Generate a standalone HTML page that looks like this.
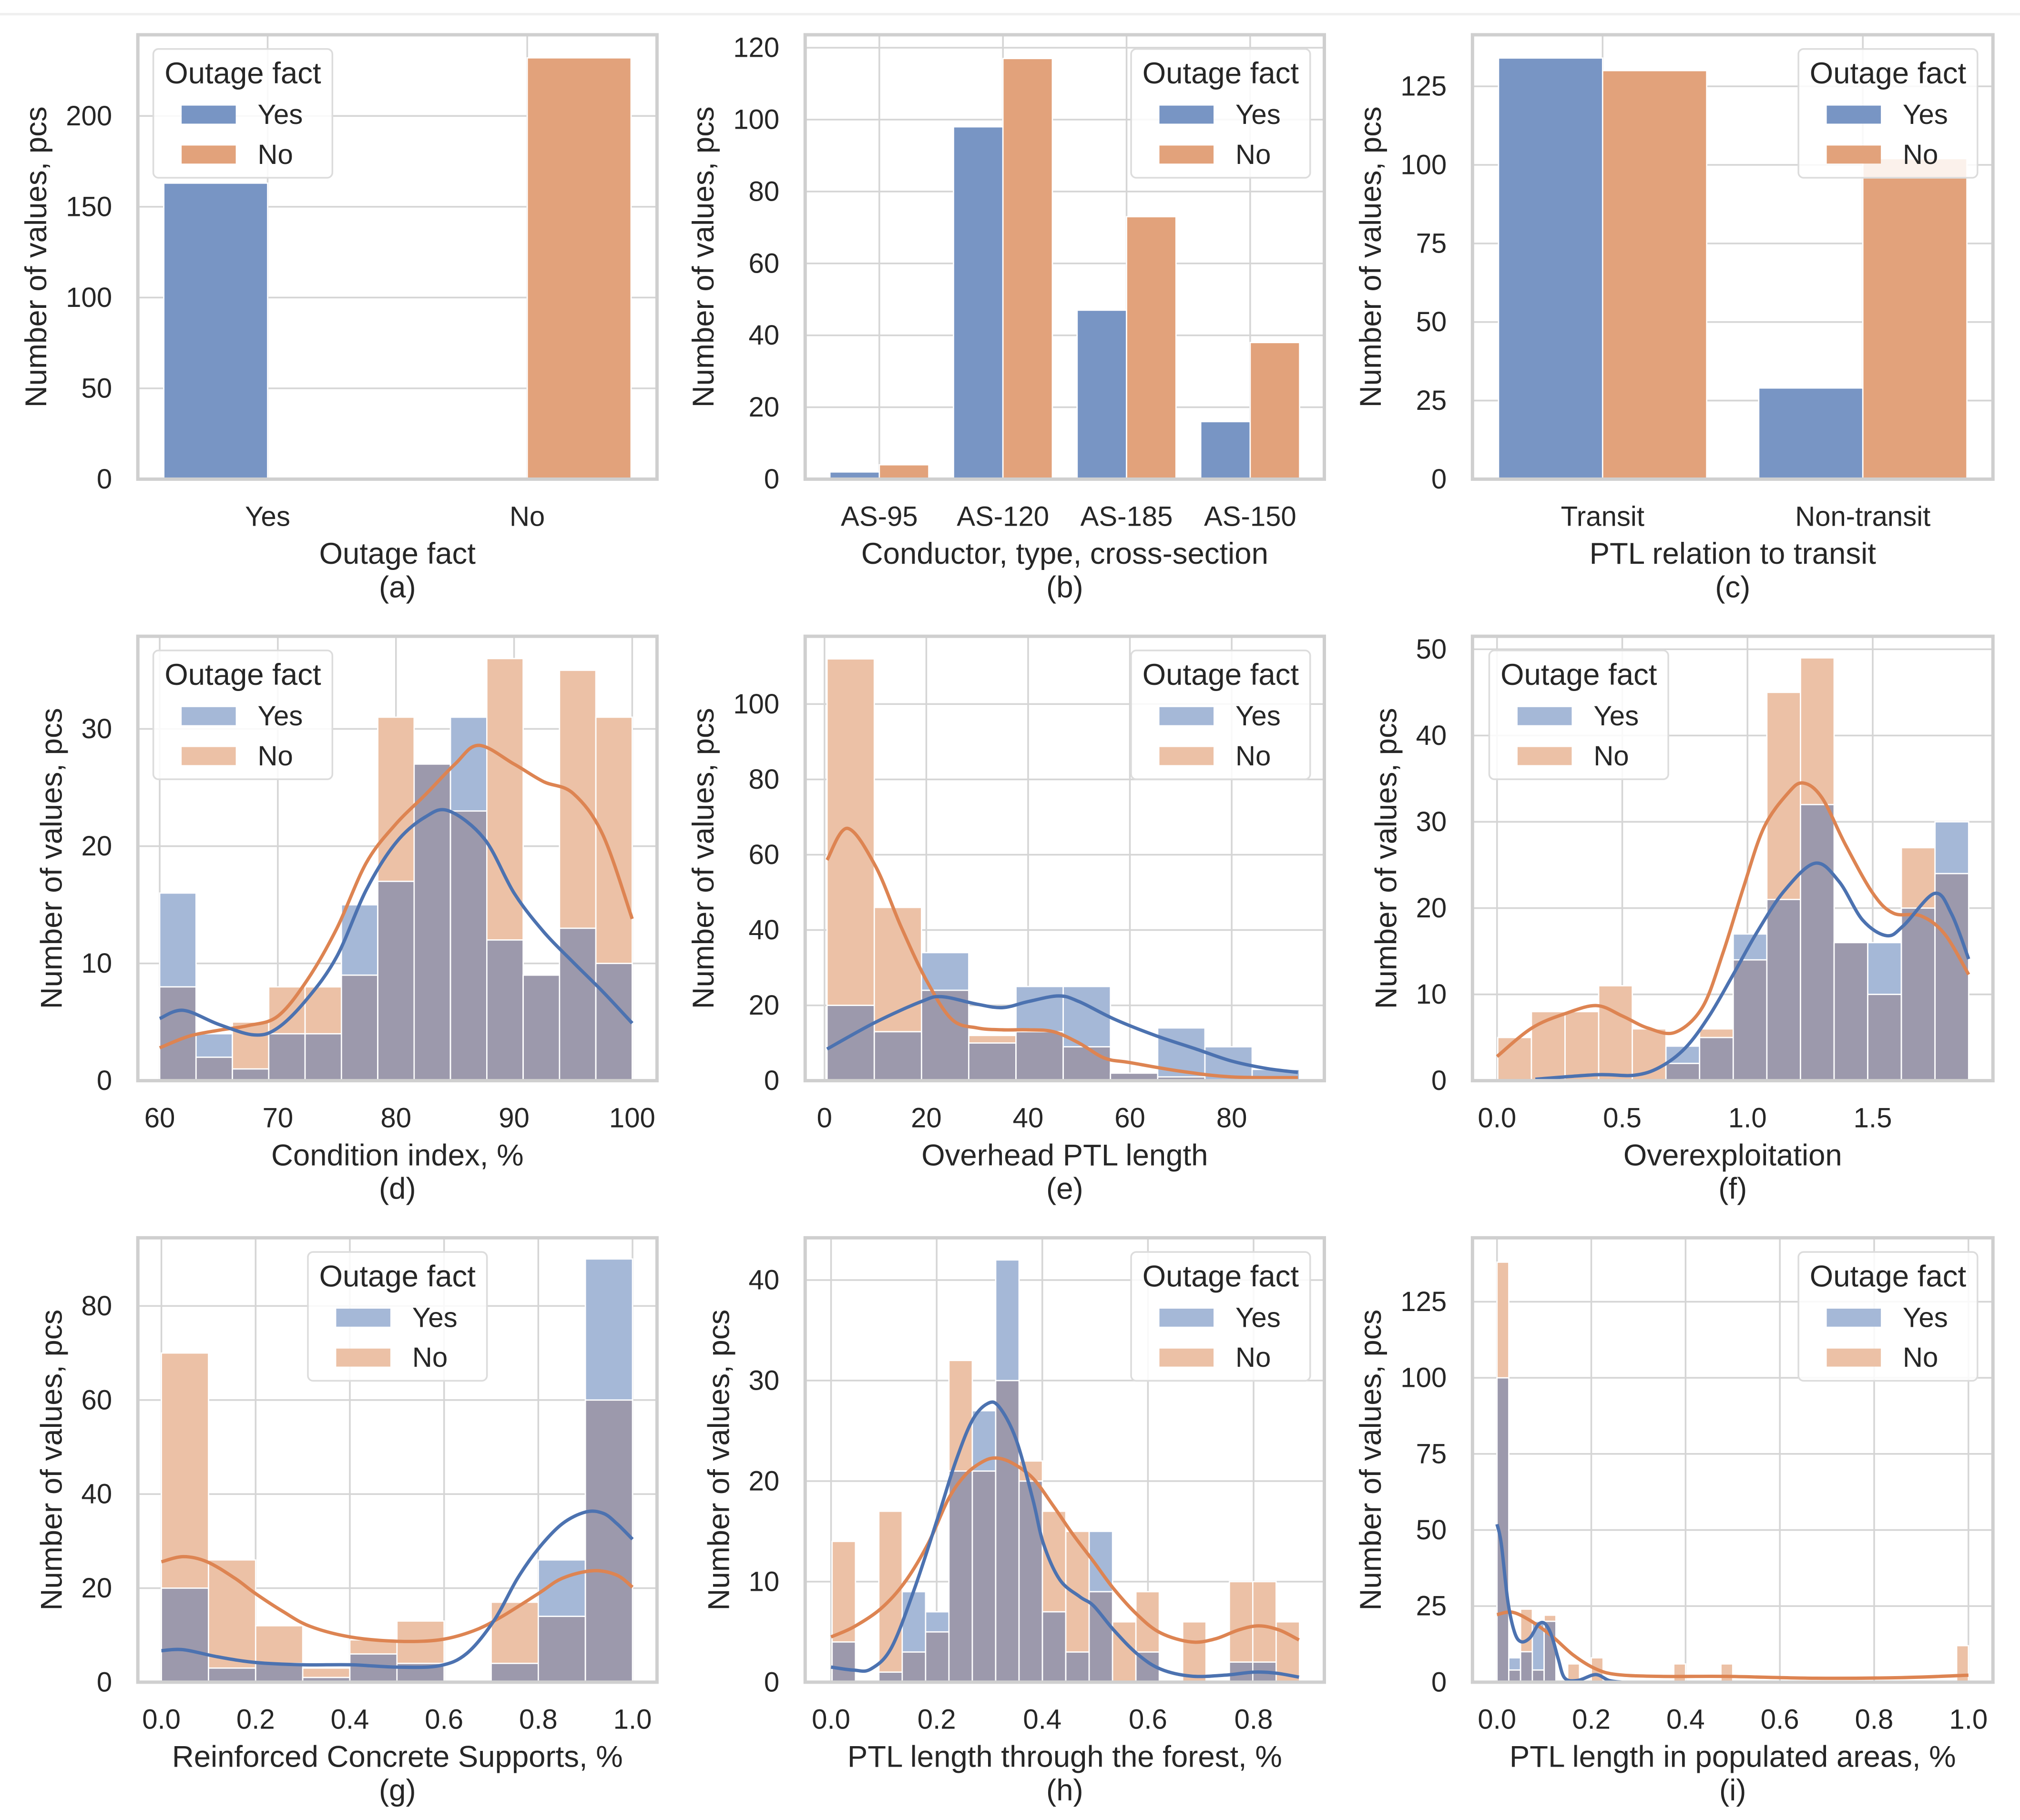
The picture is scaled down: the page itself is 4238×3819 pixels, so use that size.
<!DOCTYPE html>
<html><head><meta charset="utf-8"><title>Outage fact distributions</title>
<style>
html,body{margin:0;padding:0;background:#fff;}
svg{display:block;}
text{font-family:"Liberation Sans",Arial,sans-serif;fill:#262626;}
</style></head>
<body>
<svg id="fig" xmlns="http://www.w3.org/2000/svg" width="4238" height="3819" viewBox="0 0 1568 1413" preserveAspectRatio="none">
<rect x="0" y="0" width="1568" height="1413" fill="#fff"/>
<line x1="0" y1="11" x2="1568" y2="11" stroke="#f0f0f0" stroke-width="2"/>
</svg>
<script>
// ---------- data ----------
const aCats=['Yes','No']; const aYes=[163,0]; const aNo=[0,232];
const aYTicks=[0,50,100,150,200];
const bCats=['AS-95','AS-120','AS-185','AS-150']; const bYes=[2,98,47,16]; const bNo=[4,117,73,38];
const bYTicks=[0,20,40,60,80,100,120];
const cCats=['Transit','Non-transit']; const cYes=[134,29]; const cNo=[130,102];
const cYTicks=[0,25,50,75,100,125];

const dYes=[16,4,1,4,4,15,17,27,31,12,9,13,10];
const dNo=[8,2,5,8,8,9,31,27,23,36,9,35,31];
const dKdeYesX=[60,62,65,68,70,72.5,75,77.5,80,82.5,84.5,87.5,90,92.5,95,97.5,100];
const dKdeYesY=[5.3,6,4.8,3.9,4.5,7,10.6,16.3,20.3,22.5,23,20.6,16,12.7,10.1,7.6,4.9];
const dKdeNoX=[60,62.5,65,67.5,70,72.5,75,77.5,80,82.5,85,87,90,92.5,95,97.5,100];
const dKdeNoY=[2.8,3.8,4.3,4.7,5.5,8.6,13,18.6,21.9,24.4,27,28.6,27,25.5,24.5,21,13.8];
const dXTicks=[60,70,80,90,100]; const dXLabels=['60','70','80','90','100']; const dYTicks=[0,10,20,30];

const eYes=[20,13,34,10,25,25,2,14,9,3];
const eNo=[112,46,24,12,13,9,2,1,0,0];
const eKdeYesX=[0.5,10,19,23,30,35,40,46,50,57,65,73,80,87,93];
const eKdeYesY=[8.4,15.5,21,22.3,20.3,19.4,21,22.5,21,16.3,12,8.4,5.2,3.2,2.2];
const eKdeNoX=[0.5,4.5,10,15,20,25,30,35,40,45,50,55,60,70,80,93];
const eKdeNoY=[58.6,67,57,41,26.7,16.3,14,13.5,13.5,13,10,6,4.8,2.5,1,0.8];
const eXTicks=[0,20,40,60,80]; const eXLabels=['0','20','40','60','80']; const eYTicks=[0,20,40,60,80,100];

const fYes=[0,0,0,0,0,4,5,17,21,32,16,16,20,30];
const fNo=[5,8,8,11,6,2,6,14,45,49,16,10,27,24];
const fKdeYesX=[0.153,0.398,0.548,0.650,0.752,0.847,0.943,1.038,1.147,1.270,1.365,1.460,1.556,1.624,1.747,1.815,1.883];
const fKdeYesY=[0.17,0.69,0.63,1.56,3.8,7.5,12.3,17.2,22.0,25.2,23.1,18.6,16.8,18.0,21.7,19.3,14.1];
const fKdeNoX=[0,0.139,0.275,0.398,0.5,0.602,0.711,0.820,0.902,0.984,1.065,1.161,1.222,1.297,1.392,1.501,1.583,1.692,1.787,1.883];
const fKdeNoY=[2.8,6.1,7.8,8.7,7.5,6.1,5.6,8.5,14.8,22.4,29.3,33.3,34.5,32.8,27.3,21.7,19.4,19.1,17.0,12.3];
const fXTicks=[0,0.5,1,1.5]; const fXLabels=['0.0','0.5','1.0','1.5']; const fYTicks=[0,10,20,30,40,50];

const gYes=[20,3,4,1,6,4,0,4,26,90];
const gNo=[70,26,12,3,9,13,0,17,14,60];
const gKdeYesX=[0,0.047,0.119,0.199,0.3,0.402,0.501,0.590,0.648,0.706,0.756,0.801,0.851,0.901,0.938,0.967,1.0];
const gKdeYesY=[6.7,6.9,5.4,4.2,3.7,3.7,3.2,3.5,6.1,13.1,22.1,28.5,33.7,36.2,35.9,33.7,30.4];
const gKdeNoX=[0,0.047,0.097,0.156,0.199,0.257,0.315,0.402,0.501,0.590,0.662,0.72,0.801,0.851,0.915,0.966,1.0];
const gKdeNoY=[25.6,26.7,25.6,22.1,18.9,15.1,11.9,9.6,8.7,9.0,10.9,13.8,18.9,22.1,23.7,22.8,20.2];
const gXTicks=[0,0.2,0.4,0.6,0.8,1.0]; const gXLabels=['0.0','0.2','0.4','0.6','0.8','1.0']; const gYTicks=[0,20,40,60,80];

const hYes=[4,0,1,9,7,21,27,42,20,7,3,15,0,3,0,0,0,2,2,0];
const hNo=[14,0,17,3,5,32,21,30,22,17,15,9,6,9,0,6,0,10,10,6];
const hKdeYesX=[0,0.043,0.075,0.114,0.158,0.203,0.235,0.267,0.296,0.318,0.350,0.382,0.402,0.433,0.471,0.497,0.535,0.580,0.624,0.682,0.746,0.8,0.842,0.886];
const hKdeYesY=[1.5,1.2,1.3,3.4,9.3,16.5,21.8,26.0,27.7,27.4,24.2,18.2,13.8,10.2,8.5,7.6,5.2,2.8,1.3,0.6,0.7,1.0,0.9,0.5];
const hKdeNoX=[0,0.043,0.094,0.139,0.184,0.222,0.254,0.286,0.312,0.343,0.382,0.420,0.458,0.497,0.535,0.580,0.624,0.682,0.727,0.772,0.810,0.848,0.886];
const hKdeNoY=[4.5,5.5,7.3,9.9,13.8,18.2,20.6,21.9,22.3,21.8,20.3,17.6,14.7,12.0,9.3,6.7,4.9,4.0,4.3,5.2,5.6,5.2,4.2];
const hXTicks=[0,0.2,0.4,0.6,0.8]; const hXLabels=['0.0','0.2','0.4','0.6','0.8']; const hYTicks=[0,10,20,30,40];

const iYes=[100,8,10,20,20,0,0,0,0,0,0,0,0,0,0,0,0,0,0,0,0,0,0,0,0,0,0,0,0,0,0,0,0,0,0,0,0,0,0,0];
const iNo=[138,4,24,4,22,0,6,0,8,0,0,0,0,0,0,6,0,0,0,6,0,0,0,0,0,0,0,0,0,0,0,0,0,0,0,0,0,0,0,12];
const iKdeYesX=[0,0.009,0.023,0.037,0.051,0.07,0.088,0.102,0.116,0.130,0.144,0.172,0.209,0.237,0.264];
const iKdeYesY=[51.9,45.6,26.6,16.5,13.3,14.6,19.0,19.2,15.2,7.6,1.3,0.6,2.5,0.6,0];
const iKdeNoX=[0,0.032,0.07,0.116,0.162,0.209,0.255,0.348,0.487,0.673,0.858,1.0];
const iKdeNoY=[22.2,23.0,20.3,15.2,8.9,4.4,2.5,1.9,1.9,1.3,1.5,2.3];
const iXTicks=[0,0.2,0.4,0.6,0.8,1.0]; const iXLabels=['0.0','0.2','0.4','0.6','0.8','1.0']; const iYTicks=[0,25,50,75,100,125];

// ---------- rendering ----------
const NS='http://www.w3.org/2000/svg';
const svg=document.getElementById('fig');
const BLUE='#4c72b0', ORANGE='#dd8452';
const BAR_BLUE='#7895c4', BAR_ORANGE='#e2a27b';
const H_BLUE='#a5b8d7', H_ORANGE='#ecc1a6', H_OVER='#9c99ac';
const GRID='#d5d5d5', FRAME='#cfcfcf';
function mk(tag,attrs,parent){const e=document.createElementNS(NS,tag);for(const k in attrs)e.setAttribute(k,attrs[k]);parent.appendChild(e);return e;}
function tx(str,x,y,size,anchor,parent){const e=mk('text',{x:x,y:y,'font-size':size,'text-anchor':anchor,'dominant-baseline':'central'},parent);e.textContent=str;return e;}

const COLS=[[107,510],[625,1028],[1143,1547]];
const ROWS=[[27,372],[494,839],[961,1306]];

function makePanel(id,col,row,xd,yd){
  const g=mk('g',{},svg);
  
  
  const P={g:g,x0:COLS[col][0],x1:COLS[col][1],y0:ROWS[row][0],y1:ROWS[row][1],xd:xd,yd:yd};
  P.sx=v=>P.x0+(v-xd[0])/(xd[1]-xd[0])*(P.x1-P.x0);
  P.sy=v=>P.y1-(v-yd[0])/(yd[1]-yd[0])*(P.y1-P.y0);
  const cp=mk('clipPath',{id:'clip-'+id},g);
  mk('rect',{x:P.x0,y:P.y0,width:P.x1-P.x0,height:P.y1-P.y0},cp);
  return P;
}
function grid(P,xVals,yVals){
  for(const v of yVals){const l=mk('line',{x1:P.x0,x2:P.x1,y1:P.sy(v),y2:P.sy(v),stroke:GRID,'stroke-width':1.3},P.g);
    
    }
  for(const v of xVals){const l=mk('line',{x1:P.sx(v),x2:P.sx(v),y1:P.y0,y2:P.y1,stroke:GRID,'stroke-width':1.3},P.g);
    
    }
}
function frame(P){
  const r=mk('rect',{x:P.x0,y:P.y0,width:P.x1-P.x0,height:P.y1-P.y0,fill:'none',stroke:FRAME,'stroke-width':2.6},P.g);
  
  
}
function yTicks(P,vals,labels){
  let maxLen=0;
  vals.forEach((v,i)=>{const s=labels?labels[i]:String(v);maxLen=Math.max(maxLen,s.length);
    const t=tx(s,P.x0-20,P.sy(v),21.5,'end',P.g);
    
    });
  const cx=P.x0-20-maxLen*11.95-23, cy=(P.y0+P.y1)/2;
  const t=tx('Number of values, pcs',cx,cy,23.5,'middle',P.g);
  t.setAttribute('transform','rotate(-90 '+cx+' '+cy+')');
  
  
}
function xTicks(P,vals,labels,title,cap){
  vals.forEach((v,i)=>{const t=tx(labels[i],P.sx(v),P.y1+29,21.5,'middle',P.g);
    
    });
  const mid=(P.x0+P.x1)/2;
  const t=tx(title,mid,P.y1+58,23.5,'middle',P.g);
  
  
  const c=tx(cap,mid,P.y1+84,23.5,'middle',P.g);
  
  
}
function legend(P,lx,ly,cb,co){
  const g=mk('g',{},P.g);
  
  
  mk('rect',{x:lx,y:ly,width:139,height:100,rx:4,fill:'#fff','fill-opacity':0.85,stroke:'#dcdcdc','stroke-width':1.3},g);
  const t=tx('Outage fact',lx+69.5,ly+19,23.5,'middle',g);
  
  
  const r1=mk('rect',{x:lx+22,y:ly+44,width:42,height:14,fill:cb},g);
  
  
  const t1=tx('Yes',lx+81,ly+51,21.5,'start',g);
  
  
  const r2=mk('rect',{x:lx+22,y:ly+75,width:42,height:14,fill:co},g);
  
  
  const t2=tx('No',lx+81,ly+82,21.5,'start',g);
  
  
}
function countPanel(id,col,row,xd,yd,cats,yes,no,yt,title,cap,lx,ly){
  const P=makePanel(id,col,row,xd,yd);
  grid(P,cats.map((c,i)=>i),yt.slice(1));
  cats.forEach((c,i)=>{
    if(yes[i]>0){const r=mk('rect',{x:P.sx(i-0.4),y:P.sy(yes[i]),width:P.sx(i)-P.sx(i-0.4),height:P.sy(0)-P.sy(yes[i]),fill:BAR_BLUE,stroke:'#fff','stroke-width':1},P.g);
      
      }
    if(no[i]>0){const r=mk('rect',{x:P.sx(i),y:P.sy(no[i]),width:P.sx(i+0.4)-P.sx(i),height:P.sy(0)-P.sy(no[i]),fill:BAR_ORANGE,stroke:'#fff','stroke-width':1},P.g);
      
      }
  });
  frame(P);
  legend(P,lx,ly,BAR_BLUE,BAR_ORANGE);
  yTicks(P,yt);
  xTicks(P,cats.map((c,i)=>i),cats,title,cap);
}
function smoothPath(pts){
  let d='M'+pts[0][0]+','+pts[0][1];
  for(let i=0;i<pts.length-1;i++){
    const p0=pts[i-1]||pts[i],p1=pts[i],p2=pts[i+1],p3=pts[i+2]||p2;
    const c1=[p1[0]+(p2[0]-p0[0])/6,p1[1]+(p2[1]-p0[1])/6];
    const c2=[p2[0]-(p3[0]-p1[0])/6,p2[1]-(p3[1]-p1[1])/6];
    d+=' C'+c1[0]+','+c1[1]+' '+c2[0]+','+c2[1]+' '+p2[0]+','+p2[1];
  }
  return d;
}
function histPanel(id,col,row,xd,yd,start,end,yes,no,kyx,kyy,knx,kny,xt,xl,yt,title,cap,lx,ly){
  const P=makePanel(id,col,row,xd,yd);
  grid(P,xt,yt.slice(1));
  const n=yes.length, w=(end-start)/n;
  for(let i=0;i<n;i++){
    const a=start+i*w,b=a+w,hi=Math.max(yes[i],no[i]),lo=Math.min(yes[i],no[i]);
    if(hi>0){const r=mk('rect',{x:P.sx(a),y:P.sy(hi),width:P.sx(b)-P.sx(a),height:P.sy(0)-P.sy(hi),fill:yes[i]>no[i]?H_BLUE:H_ORANGE,stroke:'#fff','stroke-width':1},P.g);
      
      }
    if(lo>0){const r=mk('rect',{x:P.sx(a),y:P.sy(lo),width:P.sx(b)-P.sx(a),height:P.sy(0)-P.sy(lo),fill:H_OVER,stroke:'#fff','stroke-width':1},P.g);
      
      }
  }
  const pn=kny.map((v,i)=>[P.sx(knx[i]),P.sy(v)]);
  const ln=mk('path',{d:smoothPath(pn),fill:'none',stroke:ORANGE,'stroke-width':2.6,'clip-path':'url(#clip-'+id+')'},P.g);
  
  
  const py=kyy.map((v,i)=>[P.sx(kyx[i]),P.sy(v)]);
  const ly2=mk('path',{d:smoothPath(py),fill:'none',stroke:BLUE,'stroke-width':2.6,'clip-path':'url(#clip-'+id+')'},P.g);
  
  
  frame(P);
  legend(P,lx,ly,H_BLUE,H_ORANGE);
  yTicks(P,yt);
  xTicks(P,xt,xl,title,cap);
}

countPanel('a',0,0,[-0.5,1.5],[0,244.7],aCats,aYes,aNo,aYTicks,'Outage fact','(a)',119,38);
countPanel('b',1,0,[-0.6,3.6],[0,123.6],bCats,bYes,bNo,bYTicks,'Conductor, type, cross-section','(b)',878,38);
countPanel('c',2,0,[-0.5,1.5],[0,141.4],cCats,cYes,cNo,cYTicks,'PTL relation to transit','(c)',1396,38);
histPanel('d',0,1,[58.15,102.1],[0,37.9],60,100,dYes,dNo,dKdeYesX,dKdeYesY,dKdeNoX,dKdeNoY,dXTicks,dXLabels,dYTicks,'Condition index, %','(d)',119,505);
histPanel('e',1,1,[-3.8,98.2],[0,118],0.5,93.3,eYes,eNo,eKdeYesX,eKdeYesY,eKdeNoX,eKdeNoY,eXTicks,eXLabels,eYTicks,'Overhead PTL length','(e)',878,505);
histPanel('f',2,1,[-0.098,1.98],[0,51.5],0.003,1.883,fYes,fNo,fKdeYesX,fKdeYesY,fKdeNoX,fKdeNoY,fXTicks,fXLabels,fYTicks,'Overexploitation','(f)',1156,505);
histPanel('g',0,2,[-0.05,1.052],[0,94.5],0,1,gYes,gNo,gKdeYesX,gKdeYesY,gKdeNoX,gKdeNoY,gXTicks,gXLabels,gYTicks,'Reinforced Concrete Supports, %','(g)',239,972);
histPanel('h',1,2,[-0.049,0.934],[0,44.2],0.002,0.887,hYes,hNo,hKdeYesX,hKdeYesY,hKdeNoX,hKdeNoY,hXTicks,hXLabels,hYTicks,'PTL length through the forest, %','(h)',878,972);
histPanel('i',2,2,[-0.052,1.052],[0,146],0,1,iYes,iNo,iKdeYesX,iKdeYesY,iKdeNoX,iKdeNoY,iXTicks,iXLabels,iYTicks,'PTL length in populated areas, %','(i)',1396,972);
</script>
</body></html>
